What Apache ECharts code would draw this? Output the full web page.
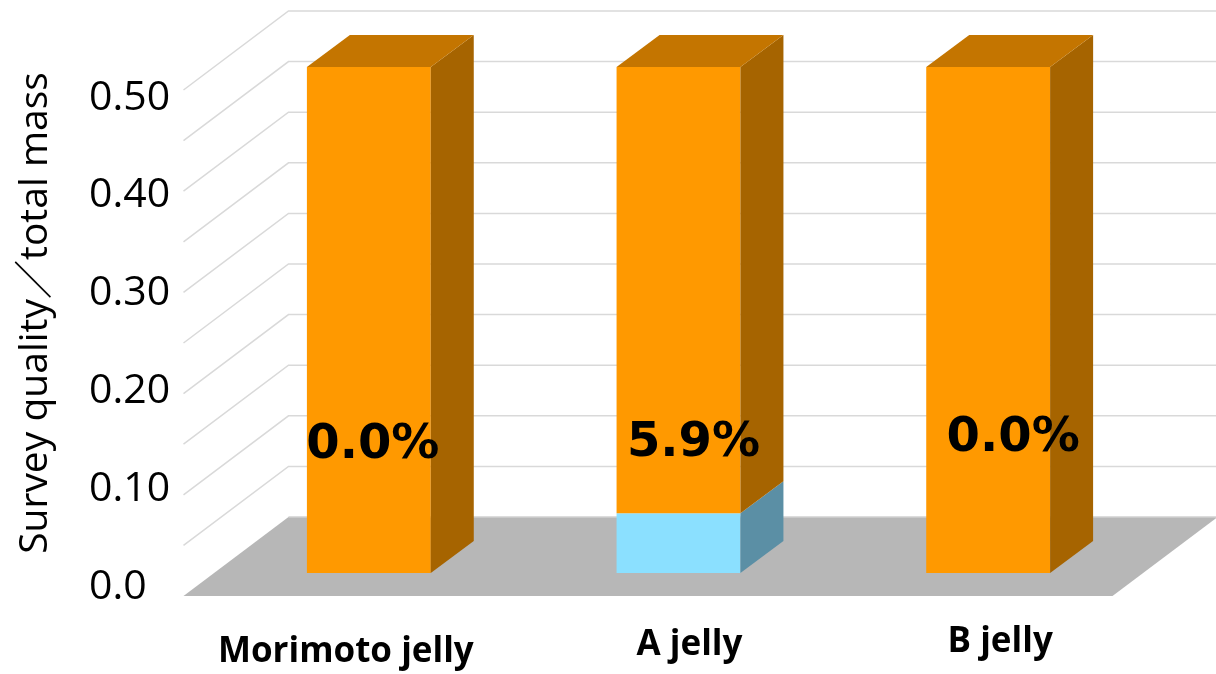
<!DOCTYPE html>
<html><head><meta charset="utf-8">
<script src="https://cdn.jsdelivr.net/npm/echarts@6/dist/echarts.min.js"></script>
<style>html,body{margin:0;padding:0;background:#fff}#c{width:1216px;height:674px}</style>
</head><body><div id="c"></div>
<script>
// ---- data ----
const categories = ['Morimoto jelly', 'A jelly', 'B jelly'];
const blueValues = [0, 0.059, 0];
const orangeValues = [0.5, 0.441, 0.5];
const gridTicks = [0, 0.05, 0.10, 0.15, 0.20, 0.25, 0.30, 0.35, 0.40, 0.45, 0.50];
const shareLabels = ['0.0%', '5.9%', '0.0%'];
const yAxisName = 'Survey quality／total mass';

// ---- styling / geometry ----
const FONT = '"Open Sans", "Noto Sans CJK JP", sans-serif';
const LABEL_FONT = '"DejaVu Sans", "Open Sans", sans-serif';
const BACK = [74.5, -56];   // bar front plane -> back wall
const FRONT = [-30.5, 23];  // bar front plane -> floor front edge
const BAR_D = [43, -32];    // bar depth
const BAR_W = 0.4;
const LABEL_LEVEL = 0.13;
const labelNudge = [[4, 4], [15, 2], [25, -3]];
const catShift = [[-23, 10], [11, 3], [12, 0]];

const COLORS = {
  orange: { front: '#FF9900', side: '#A66400', top: '#C47500' },
  blue: { front: '#8BE0FF', side: '#5B8FA5', top: '#70B4CC' }
};

function frameItem(params, api) {
  const cs = params.coordSys;
  const v = api.value(1);
  const y = api.coord([0, v])[1];
  const left = cs.x, right = cs.x + cs.width;
  const children = [];
  if (v === 0) {
    children.push({
      type: 'polygon',
      shape: { points: [
        [left + FRONT[0], y + FRONT[1]], [right + FRONT[0], y + FRONT[1]],
        [right + BACK[0], y + BACK[1]], [left + BACK[0], y + BACK[1]]
      ] },
      style: { fill: '#B7B7B7' }
    });
    children.push({
      type: 'line',
      shape: { x1: left + BACK[0], y1: y + BACK[1], x2: right + BACK[0], y2: y + BACK[1] },
      style: { stroke: '#D0D0D0', lineWidth: 1.5 }
    });
  } else {
    children.push({
      type: 'polyline',
      shape: { points: [
        [left + FRONT[0], y + FRONT[1]], [left + BACK[0], y + BACK[1]], [right + BACK[0], y + BACK[1]]
      ] },
      style: { stroke: '#D9D9D9', lineWidth: 1.5, fill: null }
    });
  }
  return { type: 'group', children };
}

function barItemFactory(col) {
  return function (params, api) {
    const i = api.value(0), lo = api.value(1), hi = api.value(2), isTop = api.value(3);
    if (hi - lo <= 0) return { type: 'group', children: [] };
    const p0 = api.coord([i, lo]), p1 = api.coord([i, hi]);
    const bw = api.size([1, 0])[0] * BAR_W;
    const xL = p0[0] - bw / 2, xR = p0[0] + bw / 2;
    const yB = p0[1], yT = p1[1];
    const children = [
      { type: 'rect', shape: { x: xL, y: yT, width: bw, height: yB - yT }, style: { fill: col.front } },
      { type: 'polygon', shape: { points: [[xR, yT], [xR + BAR_D[0], yT + BAR_D[1]], [xR + BAR_D[0], yB + BAR_D[1]], [xR, yB]] }, style: { fill: col.side } }
    ];
    if (isTop) {
      children.push({ type: 'polygon', shape: { points: [[xL, yT], [xR, yT], [xR + BAR_D[0], yT + BAR_D[1]], [xL + BAR_D[0], yT + BAR_D[1]]] }, style: { fill: col.top } });
    }
    return { type: 'group', children };
  };
}

function labelItem(params, api) {
  const i = api.value(0);
  const p = api.coord([i, api.value(1)]);
  return {
    type: 'text',
    x: p[0] + labelNudge[i][0],
    y: p[1] + labelNudge[i][1],
    style: {
      text: shareLabels[i], fill: '#000', fontSize: 48, fontWeight: 'bold', fontFamily: LABEL_FONT,
      align: 'center', verticalAlign: 'middle'
    }
  };
}

const catData = categories.map((c, i) => {
  const dx = catShift[i][0], dy = catShift[i][1];
  return {
    value: c,
    textStyle: { padding: [dy, dx < 0 ? -2 * dx : 0, 0, dx > 0 ? 2 * dx : 0] }
  };
});

const chart = echarts.init(document.getElementById('c'));
chart.setOption({
  animation: false,
  backgroundColor: '#fff',
  grid: [
    { left: 214, right: 73, top: 67, bottom: 101 },
    { left: 89, width: 1, top: 98, bottom: 87 }
  ],
  xAxis: [
    { gridIndex: 0, type: 'category', data: catData,
      axisLine: { show: false }, axisTick: { show: false }, splitLine: { show: false },
      axisLabel: { interval: 0, hideOverlap: false, margin: 52, fontSize: 35, fontWeight: 'bold', fontFamily: FONT, color: '#000', verticalAlign: 'top' } },
    { gridIndex: 1, type: 'value', show: false }
  ],
  yAxis: [
    { gridIndex: 0, type: 'value', min: 0, max: 0.5,
      axisLabel: { show: false }, axisLine: { show: false }, axisTick: { show: false }, splitLine: { show: false },
      name: yAxisName, nameLocation: 'middle', nameGap: 159,
      nameTextStyle: { fontSize: 39, fontFamily: FONT, color: '#000', padding: [0, 0, 0, 14] } },
    { gridIndex: 1, type: 'value', min: 0, max: 0.5, interval: 0.1,
      axisLine: { show: false }, axisTick: { show: false }, splitLine: { show: false },
      axisLabel: { margin: 0, align: 'left', fontSize: 41, fontFamily: FONT, color: '#000',
        formatter: v => (v === 0 ? '0.0' : v.toFixed(2)) } }
  ],
  series: [
    { type: 'custom', xAxisIndex: 0, yAxisIndex: 0, z: 1, silent: true,
      renderItem: frameItem, encode: { x: 0, y: 1 },
      data: gridTicks.map(v => [0, v]) },
    { type: 'custom', name: 'blue', xAxisIndex: 0, yAxisIndex: 0, z: 3,
      renderItem: barItemFactory(COLORS.blue), encode: { x: 0, y: [1, 2] },
      data: categories.map((c, i) => [i, 0, blueValues[i], 0]) },
    { type: 'custom', name: 'orange', xAxisIndex: 0, yAxisIndex: 0, z: 3,
      renderItem: barItemFactory(COLORS.orange), encode: { x: 0, y: [1, 2] },
      data: categories.map((c, i) => [i, blueValues[i], blueValues[i] + orangeValues[i], 1]) },
    { type: 'custom', xAxisIndex: 0, yAxisIndex: 0, z: 5,
      renderItem: labelItem, encode: { x: 0, y: 1 },
      data: categories.map((c, i) => [i, LABEL_LEVEL]) }
  ]
});
</script></body></html>
